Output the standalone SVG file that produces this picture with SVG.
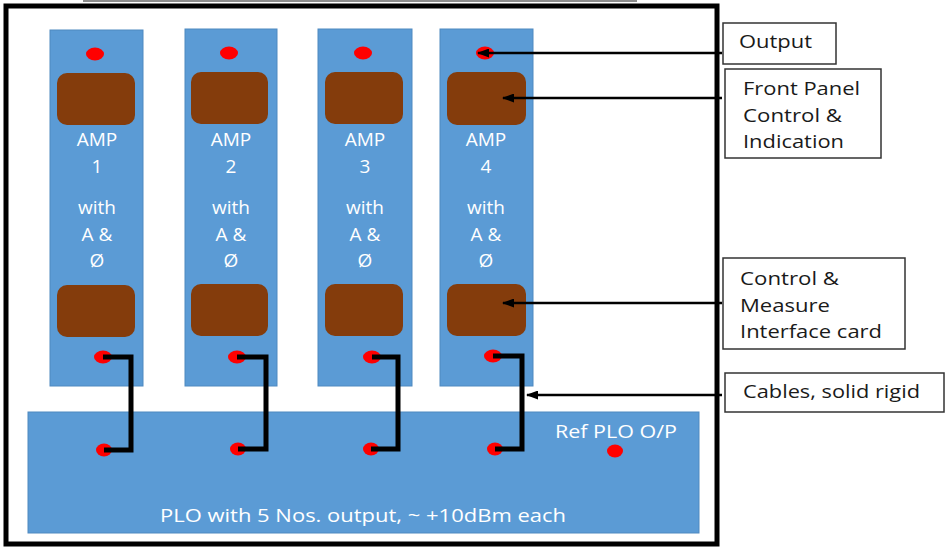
<svg xmlns="http://www.w3.org/2000/svg" width="947" height="547" viewBox="0 0 947 547">
<style>
.card{fill:#5B9BD5;stroke:#4F89C0;stroke-width:1}
.brown{fill:#843C0C}
.dot{fill:#FF0000}
.wt{fill:#FFFFFF;font-family:"Open Sans","DejaVu Sans",sans-serif;font-size:19px;text-anchor:middle}
.lbl{fill:#1A1A1A;font-family:"Open Sans","DejaVu Sans",sans-serif;font-size:19px}
.box{fill:#FFFFFF;stroke:#333333;stroke-width:1.5}
.cable{fill:none;stroke:#000000;stroke-width:5;stroke-linejoin:miter}
.arrow{fill:none;stroke:#000000;stroke-width:2.5;marker-end:url(#ah)}
</style>
<defs>
<marker id="ah" markerWidth="12" markerHeight="9" refX="11" refY="4.5" orient="auto" markerUnits="userSpaceOnUse">
<path d="M0,0 L12,4.5 L0,9 Z" fill="#000000"/>
</marker>
</defs>
<rect width="947" height="547" fill="#FFFFFF"/>
<line x1="83" y1="1" x2="637" y2="1" stroke="#8C8C8C" stroke-width="2"/>
<rect id="frame" x="6" y="6" width="711" height="538" fill="none" stroke="#000000" stroke-width="5"/>

<g id="plo">
<rect class="card" x="28" y="412" width="671" height="121"/>
<ellipse class="dot" cx="104" cy="450" rx="8" ry="6.5"/>
<ellipse class="dot" cx="238" cy="449" rx="8" ry="6.5"/>
<ellipse class="dot" cx="371" cy="449" rx="8" ry="6.5"/>
<ellipse class="dot" cx="495" cy="449" rx="8" ry="6.5"/>
<ellipse class="dot" cx="615" cy="451" rx="8" ry="6.5"/>
<text class="wt" x="616" y="438" textLength="122" lengthAdjust="spacingAndGlyphs">Ref PLO O/P</text>
<text class="wt" x="363" y="522" textLength="406" lengthAdjust="spacingAndGlyphs">PLO with 5 Nos. output, ~ +10dBm each</text>
</g>

<g id="amp1">
<rect class="card" x="50" y="30" width="93" height="356"/>
<ellipse class="dot" cx="95" cy="54" rx="9" ry="6.5"/>
<rect class="brown" x="57" y="73" width="78" height="52" rx="10"/>
<rect class="brown" x="57" y="285" width="78" height="52" rx="10"/>
<ellipse class="dot" cx="103" cy="357" rx="9" ry="6.5"/>
<text class="wt" x="97" y="146">AMP</text>
<text class="wt" x="97" y="173">1</text>
<text class="wt" x="97" y="214">with</text>
<text class="wt" x="97" y="241">A &amp;</text>
<text class="wt" x="97" y="267">Ø</text>
</g>

<g id="amp2">
<rect class="card" x="185" y="29" width="92" height="357"/>
<ellipse class="dot" cx="229" cy="53" rx="9" ry="6.5"/>
<rect class="brown" x="191" y="72" width="77" height="52" rx="10"/>
<rect class="brown" x="191" y="284" width="77" height="52" rx="10"/>
<ellipse class="dot" cx="237" cy="357" rx="9" ry="6.5"/>
<text class="wt" x="231" y="146">AMP</text>
<text class="wt" x="231" y="173">2</text>
<text class="wt" x="231" y="214">with</text>
<text class="wt" x="231" y="241">A &amp;</text>
<text class="wt" x="231" y="267">Ø</text>
</g>

<g id="amp3">
<rect class="card" x="318" y="29" width="94" height="357"/>
<ellipse class="dot" cx="363" cy="53" rx="9" ry="6.5"/>
<rect class="brown" x="325" y="72" width="78" height="52" rx="10"/>
<rect class="brown" x="325" y="284" width="78" height="52" rx="10"/>
<ellipse class="dot" cx="372" cy="357" rx="9" ry="6.5"/>
<text class="wt" x="365" y="146">AMP</text>
<text class="wt" x="365" y="173">3</text>
<text class="wt" x="365" y="214">with</text>
<text class="wt" x="365" y="241">A &amp;</text>
<text class="wt" x="365" y="267">Ø</text>
</g>

<g id="amp4">
<rect class="card" x="440" y="29" width="93" height="357"/>
<ellipse class="dot" cx="485" cy="53" rx="9" ry="6.5"/>
<rect class="brown" x="447" y="72" width="79" height="53" rx="10"/>
<rect class="brown" x="447" y="284" width="79" height="52" rx="10"/>
<ellipse class="dot" cx="493" cy="356" rx="9" ry="6.5"/>
<text class="wt" x="486" y="146">AMP</text>
<text class="wt" x="486" y="173">4</text>
<text class="wt" x="486" y="214">with</text>
<text class="wt" x="486" y="241">A &amp;</text>
<text class="wt" x="486" y="267">Ø</text>
</g>

<g id="label-output">
<rect class="box" x="723" y="23" width="113" height="41"/>
<text class="lbl" x="739" y="48" textLength="73" lengthAdjust="spacingAndGlyphs">Output</text>
</g>
<g id="label-frontpanel">
<rect class="box" x="725" y="69" width="156" height="89"/>
<text class="lbl" x="743" y="95" textLength="117" lengthAdjust="spacingAndGlyphs">Front Panel</text>
<text class="lbl" x="743" y="122" textLength="99" lengthAdjust="spacingAndGlyphs">Control &amp;</text>
<text class="lbl" x="743" y="148" textLength="101" lengthAdjust="spacingAndGlyphs">Indication</text>
</g>
<g id="label-interface">
<rect class="box" x="723" y="258" width="182" height="91"/>
<text class="lbl" x="740" y="285" textLength="99" lengthAdjust="spacingAndGlyphs">Control &amp;</text>
<text class="lbl" x="740" y="312" textLength="90" lengthAdjust="spacingAndGlyphs">Measure</text>
<text class="lbl" x="740" y="338" textLength="142" lengthAdjust="spacingAndGlyphs">Interface card</text>
</g>
<g id="label-cables">
<rect class="box" x="725" y="373" width="219" height="39"/>
<text class="lbl" x="743" y="398" textLength="177" lengthAdjust="spacingAndGlyphs">Cables, solid rigid</text>
</g>

<g id="connectors">
<polyline class="cable" points="103,357 131,357 131,450 104,450"/>
<polyline class="cable" points="237,357 266,357 266,449 238,449"/>
<polyline class="cable" points="372,357 398,357 398,449 371,449"/>
<polyline class="cable" points="493,356 522,356 522,449 495,449"/>
<line class="arrow" x1="722" y1="53" x2="478" y2="53"/>
<line class="arrow" x1="722" y1="98" x2="503" y2="98"/>
<line class="arrow" x1="722" y1="303" x2="503" y2="303"/>
<line class="arrow" x1="722" y1="395" x2="527" y2="395"/>
</g>
</svg>
